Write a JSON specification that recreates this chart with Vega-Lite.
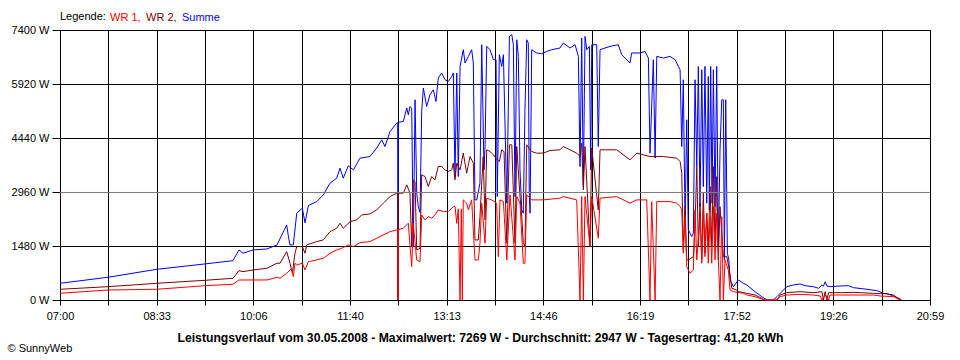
{
"$schema": "https://vega.github.io/schema/vega-lite/v6.json",
"width": 870, "height": 270,
"autosize": "none",
"padding": {"left": 60, "top": 30, "right": 30, "bottom": 60},
"background": "white",
"config": {"font": "Liberation Sans", "view": {"stroke": "black"}},
"encoding": {
 "x": {"field": "t", "type": "quantitative", "scale": {"domain": [0, 839], "nice": false, "zero": false},
  "axis": {"values": [0, 46.611, 93.222, 139.833, 186.444, 233.056, 279.667, 326.278, 372.889, 419.5, 466.111, 512.722, 559.333, 605.944, 652.556, 699.167, 745.778, 792.389, 839],
   "labelExpr": "round(datum.value/46.611)%2==1 ? '' : ['07:00','08:33','10:06','11:40','13:13','14:46','16:19','17:52','19:26','20:59'][round(datum.value/93.222)]",
   "labelFontSize": 11, "labelColor": "black", "labelPadding": 5, "labelFlush": false, "labelOverlap": false, "labelBound": false,
   "tickSize": 5, "tickColor": "black", "domainColor": "black", "grid": true, "gridColor": "black", "gridOpacity": 1,
   "title": "Leistungsverlauf vom 30.05.2008 - Maximalwert: 7269 W - Durchschnitt: 2947 W - Tagesertrag: 41,20 kWh",
   "titleFont": "Liberation Sans", "titleFontWeight": "bold", "titleFontSize": 12.2, "titleColor": "black", "titleX": 420, "titleY": 41, "titleAlign": "center", "titleBaseline": "alphabetic"}},
 "y": {"field": "w", "type": "quantitative", "scale": {"domain": [0, 7400], "nice": false, "zero": true},
  "axis": {"values": [0, 1480, 2960, 4440, 5920, 7400], "labelExpr": "datum.value + ' W'",
   "labelFontSize": 11, "labelColor": "black", "labelPadding": 3, "tickSize": 8, "tickColor": "black", "domainColor": "black",
   "grid": true, "gridColor": "black", "gridOpacity": 1,
   "title": "© SunnyWeb", "titleAngle": 0, "titleX": -53, "titleY": 321, "titleAlign": "left", "titleBaseline": "alphabetic",
   "titleFontWeight": "normal", "titleFontSize": 11, "titleColor": "black"}}
},
"layer": [
 {"data": {"values": [
{"t":0,"w":458},{"t":46.3,"w":623},{"t":93.5,"w":842},{"t":139.8,"w":988},{"t":166.8,"w":1078},{"t":172.6,"w":1372},{"t":176.5,"w":1281},{"t":186.1,"w":1372},{"t":199.6,"w":1399},{"t":209.3,"w":1509},{"t":218.6,"w":2058},{"t":220.5,"w":1700},{"t":221.8,"w":1509},{"t":225,"w":1509},{"t":228.3,"w":2379},{"t":233.7,"w":2516},{"t":236.3,"w":2113},{"t":239.5,"w":2588},{"t":247.6,"w":2697},{"t":253.9,"w":2881},{"t":260.4,"w":3202},{"t":266.9,"w":3339},{"t":270,"w":3614},{"t":273.2,"w":3339},{"t":278,"w":3677},{"t":283,"w":3567},{"t":289.3,"w":3888},{"t":298.9,"w":3932},{"t":305.4,"w":4163},{"t":310.3,"w":4390},{"t":313.4,"w":4207},{"t":318.3,"w":4618},{"t":324.7,"w":4849},{"t":325.7,"w":4860},{"t":326,"w":0},{"t":326.3,"w":4870},{"t":331.1,"w":4893},{"t":334.4,"w":5260},{"t":335.9,"w":5076},{"t":337.5,"w":5304},{"t":339.2,"w":5250},{"t":340.7,"w":1463},{"t":342.4,"w":5488},{"t":344,"w":2936},{"t":345.5,"w":2560},{"t":347.2,"w":2400},{"t":348.8,"w":5167},{"t":350.4,"w":5809},{"t":353.6,"w":5304},{"t":356.8,"w":5625},{"t":360,"w":5762},{"t":362.6,"w":5441},{"t":364.8,"w":6083},{"t":368.1,"w":6221},{"t":371.3,"w":6037},{"t":374.5,"w":5990},{"t":377.8,"w":6127},{"t":379.3,"w":6221},{"t":380.9,"w":3383},{"t":382.6,"w":6221},{"t":384.1,"w":3383},{"t":385.8,"w":6402},{"t":388.9,"w":6860},{"t":390.6,"w":6495},{"t":393.8,"w":6676},{"t":397,"w":6860},{"t":398.6,"w":6495},{"t":400.2,"w":2744},{"t":401.9,"w":2744},{"t":405,"w":3202},{"t":406.7,"w":6997},{"t":408.9,"w":3567},{"t":409.9,"w":4207},{"t":411.5,"w":6951},{"t":414.7,"w":6860},{"t":417.9,"w":6586},{"t":420.5,"w":6586},{"t":421.7,"w":2835},{"t":423.7,"w":6723},{"t":426,"w":6402},{"t":427.6,"w":6723},{"t":430.9,"w":2653},{"t":433.4,"w":7225},{"t":435.7,"w":7272},{"t":437.2,"w":6997},{"t":438.8,"w":2835},{"t":440.5,"w":7134},{"t":442,"w":6676},{"t":443.6,"w":3567},{"t":445.3,"w":2470},{"t":446.8,"w":2379},{"t":448.4,"w":5214},{"t":450.1,"w":7134},{"t":451.6,"w":7044},{"t":452.5,"w":3018},{"t":453.3,"w":2379},{"t":454.9,"w":6860},{"t":459.7,"w":6770},{"t":464.5,"w":6750},{"t":469.4,"w":6813},{"t":474.2,"w":6860},{"t":482.2,"w":6907},{"t":485.4,"w":7044},{"t":491.8,"w":6907},{"t":496.7,"w":6997},{"t":499.9,"w":6676},{"t":501.5,"w":3658},{"t":503.1,"w":7181},{"t":504.7,"w":3109},{"t":506.3,"w":7225},{"t":508,"w":6860},{"t":510.5,"w":6951},{"t":511.8,"w":3567},{"t":512.8,"w":6997},{"t":517.6,"w":6997},{"t":519.1,"w":4207},{"t":520.8,"w":6860},{"t":530.4,"w":6951},{"t":538.4,"w":6997},{"t":541.7,"w":6723},{"t":549.7,"w":6495},{"t":551.3,"w":6770},{"t":559.3,"w":6770},{"t":564.2,"w":6813},{"t":567.4,"w":6632},{"t":569,"w":4025},{"t":572.2,"w":6586},{"t":573.9,"w":3888},{"t":575.5,"w":6676},{"t":581.9,"w":6632},{"t":588.3,"w":6676},{"t":593.2,"w":6586},{"t":596.3,"w":6402},{"t":598,"w":6311},{"t":599.6,"w":4207},{"t":601.1,"w":6037},{"t":602.8,"w":2105},{"t":604.4,"w":4939},{"t":605.9,"w":1921},{"t":607.6,"w":1830},{"t":609.2,"w":1737},{"t":610.8,"w":1830},{"t":612.4,"w":6037},{"t":614.1,"w":3658},{"t":615.6,"w":6402},{"t":617.2,"w":2560},{"t":618.9,"w":6311},{"t":620.4,"w":3109},{"t":622,"w":6402},{"t":623.7,"w":2653},{"t":625.2,"w":6127},{"t":626.2,"w":2470},{"t":627.5,"w":6402},{"t":628.8,"w":2653},{"t":630.1,"w":6311},{"t":631.7,"w":2560},{"t":633.3,"w":6402},{"t":634.9,"w":1463},{"t":636.5,"w":4116},{"t":638.2,"w":5488},{"t":639.7,"w":5488},{"t":640.7,"w":1098},{"t":642,"w":5488},{"t":643.6,"w":1281},{"t":645,"w":1098},{"t":646.2,"w":549},{"t":649.5,"w":365},{"t":654.2,"w":549},{"t":659.1,"w":458},{"t":662.3,"w":412},{"t":670.3,"w":228},{"t":676.8,"w":91},{"t":681.6,"w":0},{"t":688,"w":0},{"t":691.3,"w":91},{"t":700.9,"w":365},{"t":707.3,"w":412},{"t":713.7,"w":439},{"t":718.6,"w":392},{"t":726.5,"w":365},{"t":731.5,"w":321},{"t":734.8,"w":412},{"t":736.3,"w":384},{"t":737.9,"w":500},{"t":739.6,"w":384},{"t":742.6,"w":365},{"t":752.3,"w":384},{"t":760.4,"w":392},{"t":765.2,"w":338},{"t":778.1,"w":294},{"t":787.8,"w":255},{"t":794.1,"w":184},{"t":803.8,"w":137},{"t":810.1,"w":0}
 ]},
 "mark": {"type": "line", "strokeWidth": 1},
 "encoding": {"color": {"datum": "Summe", "type": "nominal",
   "scale": {"domain": ["WR 1", "WR 2", "Summe"], "range": ["#ff0000", "#800000", "#0000ff"]},
   "legend": {"title": "Legende:", "orient": "none", "legendX": 0, "legendY": -18, "direction": "horizontal",
     "titleOrient": "left", "titleFontWeight": "normal", "titleFontSize": 11, "titleColor": "black", "titlePadding": 3,
     "labelFontSize": 11, "labelOffset": -10, "symbolSize": 0, "symbolStrokeWidth": 0, "symbolOpacity": 0, "columnPadding": 4, "gridAlign": "each",
     "labelExpr": "datum.label == 'Summe' ? datum.label : datum.label + ','",
     "encode": {"labels": {"update": {"fill": {"scale": "color", "field": "value"}}}}}}}
 },
 {"data": {"values": [
{"t":0,"w":294},{"t":46.3,"w":365},{"t":93.5,"w":458},{"t":139.8,"w":540},{"t":166.8,"w":595},{"t":172.6,"w":804},{"t":176.5,"w":777},{"t":186.1,"w":823},{"t":199.6,"w":870},{"t":209.3,"w":1007},{"t":212.2,"w":1007},{"t":218.6,"w":1325},{"t":221.8,"w":1007},{"t":224.1,"w":733},{"t":226.6,"w":1281},{"t":228.3,"w":1463},{"t":233.7,"w":1463},{"t":236.3,"w":1281},{"t":237.9,"w":1509},{"t":247.6,"w":1600},{"t":253.9,"w":1646},{"t":260.4,"w":1874},{"t":266.9,"w":1967},{"t":270,"w":2105},{"t":273.2,"w":1967},{"t":279.7,"w":2149},{"t":286.2,"w":2195},{"t":291,"w":2332},{"t":298.9,"w":2360},{"t":305.4,"w":2470},{"t":311.8,"w":2653},{"t":318.3,"w":2835},{"t":324.7,"w":2928},{"t":325.7,"w":2928},{"t":326,"w":0},{"t":326.3,"w":2928},{"t":331.1,"w":2928},{"t":334.4,"w":3156},{"t":337.5,"w":2928},{"t":339.2,"w":1463},{"t":340.7,"w":3293},{"t":342.4,"w":3246},{"t":344,"w":1372},{"t":347.2,"w":1418},{"t":348.8,"w":3430},{"t":352,"w":3383},{"t":355.2,"w":3109},{"t":358.4,"w":3383},{"t":361.6,"w":3293},{"t":364.8,"w":3658},{"t":368.1,"w":3658},{"t":371.3,"w":3567},{"t":374.5,"w":3521},{"t":377.8,"w":3567},{"t":379.3,"w":3751},{"t":380.9,"w":3293},{"t":382.6,"w":3751},{"t":385.8,"w":3567},{"t":388.9,"w":4025},{"t":392.2,"w":3476},{"t":395.4,"w":3932},{"t":398.6,"w":3751},{"t":400.2,"w":1646},{"t":403.4,"w":1646},{"t":405,"w":2286},{"t":408.1,"w":3932},{"t":409.9,"w":2195},{"t":411.5,"w":4116},{"t":414.7,"w":4070},{"t":417.9,"w":3979},{"t":421.7,"w":3842},{"t":423.7,"w":3795},{"t":426,"w":4116},{"t":428.2,"w":4070},{"t":430.9,"w":1556},{"t":433.4,"w":4253},{"t":435.7,"w":4253},{"t":438.8,"w":1556},{"t":440.5,"w":4207},{"t":443.6,"w":2835},{"t":445.3,"w":2286},{"t":446.8,"w":1556},{"t":448.4,"w":1463},{"t":450.1,"w":4253},{"t":453.3,"w":4116},{"t":454.9,"w":4070},{"t":459.7,"w":4025},{"t":466.1,"w":4025},{"t":472.6,"w":4098},{"t":482.2,"w":4116},{"t":485.4,"w":4207},{"t":498.3,"w":4025},{"t":501.5,"w":3932},{"t":503.1,"w":4299},{"t":504.7,"w":3018},{"t":506.3,"w":4207},{"t":511.1,"w":1463},{"t":512.8,"w":4162},{"t":519.1,"w":2470},{"t":520.8,"w":4116},{"t":536.9,"w":4116},{"t":549.7,"w":3842},{"t":556.1,"w":4025},{"t":569,"w":3932},{"t":581.9,"w":3932},{"t":594.8,"w":3888},{"t":598,"w":3795},{"t":599.6,"w":3476},{"t":601.1,"w":1372},{"t":602.8,"w":2560},{"t":604.4,"w":1098},{"t":605.9,"w":1098},{"t":610.8,"w":1188},{"t":612.4,"w":2011},{"t":614.1,"w":3658},{"t":615.6,"w":1463},{"t":617.2,"w":2653},{"t":618.9,"w":1098},{"t":620.4,"w":2928},{"t":622,"w":1281},{"t":623.7,"w":2379},{"t":625.2,"w":1463},{"t":626.9,"w":3109},{"t":628.5,"w":1463},{"t":630.1,"w":3658},{"t":631.7,"w":1463},{"t":633.3,"w":3383},{"t":634.9,"w":1098},{"t":636.5,"w":2560},{"t":639.7,"w":1188},{"t":643,"w":1188},{"t":645.5,"w":823},{"t":647.9,"w":321},{"t":652.7,"w":274},{"t":654.2,"w":230},{"t":662.3,"w":183},{"t":670.3,"w":137},{"t":680,"w":0},{"t":691.3,"w":0},{"t":694.4,"w":137},{"t":700.9,"w":201},{"t":713.7,"w":228},{"t":726.5,"w":201},{"t":734.8,"w":228},{"t":736.3,"w":0},{"t":737.9,"w":228},{"t":739.6,"w":0},{"t":741.2,"w":201},{"t":752.3,"w":201},{"t":765.2,"w":210},{"t":784.5,"w":183},{"t":790.9,"w":174},{"t":797.4,"w":174},{"t":807,"w":73},{"t":811.8,"w":0}
 ]},
 "mark": {"type": "line", "strokeWidth": 1},
 "encoding": {"color": {"datum": "WR 2", "type": "nominal"}}
 },
 {"data": {"values": [
{"t":0,"w":184},{"t":46.3,"w":274},{"t":93.5,"w":294},{"t":139.8,"w":392},{"t":166.8,"w":431},{"t":172.6,"w":549},{"t":186.1,"w":549},{"t":199.6,"w":549},{"t":209.3,"w":623},{"t":212.2,"w":595},{"t":218.6,"w":733},{"t":223.4,"w":870},{"t":225,"w":640},{"t":226.6,"w":1007},{"t":228.3,"w":960},{"t":233.7,"w":1007},{"t":236.3,"w":823},{"t":239.5,"w":1051},{"t":247.6,"w":1098},{"t":253.9,"w":1143},{"t":260.4,"w":1281},{"t":266.9,"w":1372},{"t":271.7,"w":1418},{"t":278,"w":1509},{"t":283,"w":1463},{"t":289.3,"w":1573},{"t":298.9,"w":1600},{"t":308.6,"w":1737},{"t":318.3,"w":1874},{"t":324.7,"w":1921},{"t":325.7,"w":1921},{"t":326,"w":0},{"t":326.3,"w":1930},{"t":331.1,"w":1967},{"t":335.9,"w":2105},{"t":337.5,"w":1509},{"t":339.2,"w":914},{"t":340.7,"w":2105},{"t":344,"w":1098},{"t":347.2,"w":1051},{"t":348.8,"w":2332},{"t":352,"w":2195},{"t":355.2,"w":2286},{"t":358.4,"w":2242},{"t":361.6,"w":2332},{"t":364.8,"w":2470},{"t":369.7,"w":2423},{"t":374.5,"w":2423},{"t":379.3,"w":2560},{"t":381,"w":2560},{"t":382.6,"w":2100},{"t":384.1,"w":2500},{"t":385.8,"w":0},{"t":387,"w":2500},{"t":388,"w":0},{"t":388.9,"w":2744},{"t":392.2,"w":2653},{"t":393.8,"w":2470},{"t":397,"w":2744},{"t":400.2,"w":1098},{"t":403.4,"w":1098},{"t":405,"w":1556},{"t":406.7,"w":2653},{"t":409.9,"w":1556},{"t":411.5,"w":2790},{"t":416.3,"w":2744},{"t":421.1,"w":2653},{"t":422.7,"w":1188},{"t":424.3,"w":2744},{"t":427.6,"w":2697},{"t":430.9,"w":1098},{"t":434,"w":2881},{"t":438.8,"w":1098},{"t":440.5,"w":2835},{"t":443.6,"w":2653},{"t":446.8,"w":1007},{"t":448.4,"w":1007},{"t":450.1,"w":2881},{"t":454.9,"w":2744},{"t":466.1,"w":2744},{"t":482.2,"w":2790},{"t":485.4,"w":2835},{"t":498.3,"w":2744},{"t":501.5,"w":0},{"t":503.1,"w":2835},{"t":504.7,"w":0},{"t":506.3,"w":2835},{"t":511.1,"w":1463},{"t":512.8,"w":2835},{"t":519.1,"w":1693},{"t":520.8,"w":2790},{"t":536.9,"w":2835},{"t":549.7,"w":2653},{"t":556.1,"w":2744},{"t":565.8,"w":2744},{"t":569,"w":0},{"t":570.6,"w":2697},{"t":573.9,"w":0},{"t":575.5,"w":2697},{"t":588.3,"w":2697},{"t":594.8,"w":2653},{"t":598,"w":2560},{"t":599.6,"w":2470},{"t":601.1,"w":1281},{"t":602.8,"w":2286},{"t":604.4,"w":914},{"t":607.6,"w":733},{"t":610.8,"w":823},{"t":612.4,"w":2470},{"t":614.1,"w":1098},{"t":617.2,"w":2286},{"t":618.9,"w":1007},{"t":620.4,"w":2470},{"t":622,"w":1188},{"t":623.7,"w":2379},{"t":625.2,"w":1007},{"t":626.9,"w":2286},{"t":628.5,"w":1007},{"t":630.1,"w":2560},{"t":631.7,"w":1098},{"t":633.3,"w":2379},{"t":634.9,"w":1098},{"t":636.5,"w":0},{"t":638.2,"w":2286},{"t":639.7,"w":0},{"t":641.3,"w":1098},{"t":644.5,"w":823},{"t":646.2,"w":274},{"t":649.5,"w":228},{"t":659.1,"w":183},{"t":662.3,"w":137},{"t":670.3,"w":91},{"t":680,"w":0},{"t":691.3,"w":0},{"t":694.4,"w":91},{"t":700.9,"w":137},{"t":713.7,"w":155},{"t":726.5,"w":137},{"t":733.1,"w":110},{"t":734.8,"w":0},{"t":737.9,"w":137},{"t":741.2,"w":0},{"t":742.6,"w":137},{"t":752.3,"w":137},{"t":784.5,"w":137},{"t":790.9,"w":110},{"t":803.8,"w":91},{"t":810.1,"w":0}
 ]},
 "mark": {"type": "line", "strokeWidth": 1},
 "encoding": {"color": {"datum": "WR 1", "type": "nominal"}}
 },
 {"data": {"values": [{"t": 0, "w": 2947}, {"t": 839, "w": 2947}]},
  "mark": {"type": "line", "strokeWidth": 1, "color": "#808080"}}
]
}
